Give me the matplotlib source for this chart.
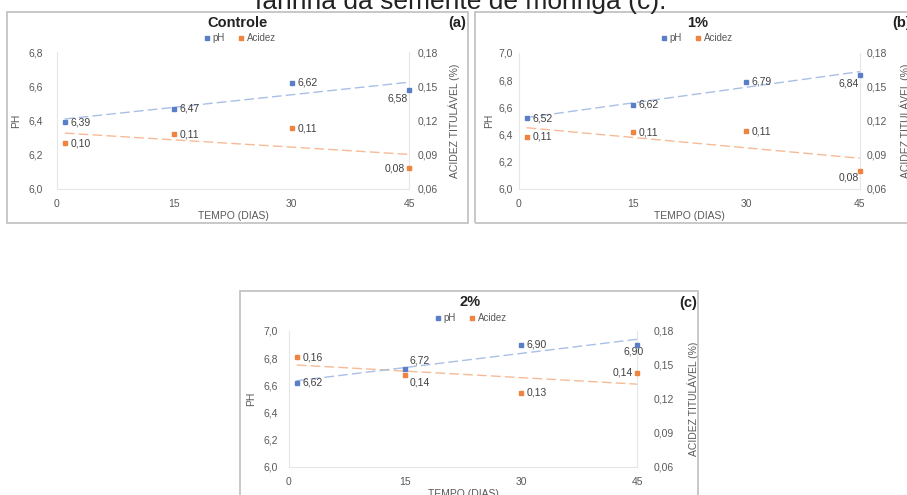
import matplotlib
matplotlib.use('Agg')
import matplotlib.pyplot as plt
import numpy as np
from matplotlib.patches import Rectangle

plt.rcParams['font.family'] = ['Liberation Sans', 'DejaVu Sans']

# ---------------- data ----------------
days = [1, 15, 30, 45]
x_ticks = [0, 15, 30, 45]
panel_titles = ['Controle', '1%', '2%']
panel_tags = ['(a)', '(b)', '(c)']
ph_control = [6.39, 6.47, 6.62, 6.58]
ph_1pct = [6.52, 6.62, 6.79, 6.84]
ph_2pct = [6.62, 6.72, 6.90, 6.90]
acid_control = [0.100, 0.108, 0.113, 0.078]
acid_1pct = [0.106, 0.110, 0.111, 0.076]
acid_2pct = [0.157, 0.141, 0.1256, 0.143]
ph_ticks_control = [6.0, 6.2, 6.4, 6.6, 6.8]
ph_ticks_pct = [6.0, 6.2, 6.4, 6.6, 6.8, 7.0]
acid_ticks = [0.06, 0.09, 0.12, 0.15, 0.18]
series_names = ['pH', 'Acidez']
x_label = 'TEMPO (DIAS)'
y_label = 'PH'
y2_label = 'ACIDEZ TITULÁVEL (%)'
caption = 'farinha da semente de moringa (c).'

# ---------------- layout / style ----------------
W, H = 907, 495
fig = plt.figure(figsize=(W / 100, H / 100), dpi=100)


def fx(x):
    return x / W


def fy(y):
    return 1 - y / H


BLUE = '#5a7fc8'
ORANGE = '#ef8440'
BLUE_T = '#aabfe6'
ORANGE_T = '#f6bb96'
TXT = '#595959'
LBL = '#404040'

frames = [(7, 12, 468, 223), (475, 12, 920, 223), (240, 291, 698, 510)]
axes_px = [(57, 52, 409, 189), (519, 53, 860, 189), (289, 331, 637, 467)]
title_pos = [(237, 23), (698, 23), (470, 302)]
tag_pos = [(457, 23), (902, 23), (688, 303)]
legend_pos = [(240, 38), (697, 38), (471, 318)]
left_pad = [10, 4.5, 8]
right_pad = [6.5, 5, 12]
y_label_right_px = [21.5, 494, 256]
y2_label_x = [1.111, 1.117, 1.144]

ph_data = [ph_control, ph_1pct, ph_2pct]
acid_data = [acid_control, acid_1pct, acid_2pct]
ph_ticks = [ph_ticks_control, ph_ticks_pct, ph_ticks_pct]

# label placement (offset in points, horizontal alignment) per panel / point
default_off = ((4, 0), 'left')
ph_lab = [
    [default_off, default_off, default_off, ((-1, -6.5), 'right')],
    [default_off, default_off, default_off, ((-1, -6.5), 'right')],
    [default_off, ((3, 6), 'left'), default_off, ((5, -5), 'right')],
]
acid_lab = [
    [default_off, default_off, default_off, ((-3, 0), 'right')],
    [default_off, default_off, default_off, ((-1, -4.5), 'right')],
    [default_off, ((3, -5), 'left'), default_off, ((-3, 0), 'right')],
]


def comma(v, nd):
    return f'{v:.{nd}f}'.replace('.', ',')


for (x0, y0, x1, y1) in frames:
    fig.patches.append(Rectangle((fx(x0), fy(y1)), fx(x1) - fx(x0), fy(y0) - fy(y1),
                                 transform=fig.transFigure, fill=False,
                                 edgecolor='#c4c4c4', lw=1.3))

fig.text(fx(461), fy(9), caption, ha='center', va='baseline', fontsize=19,
         color='#222222')

for i in range(3):
    l, t, r, b = axes_px[i]
    ax = fig.add_axes([fx(l), fy(b), fx(r) - fx(l), fy(t) - fy(b)])
    ax2 = ax.twinx()
    ax.set_zorder(ax2.get_zorder() + 1)
    ax.patch.set_visible(False)

    x = np.array(days, dtype=float)
    ph = np.array(ph_data[i])
    ac = np.array(acid_data[i])

    # trendlines (linear fits of the data)
    p1 = np.polyfit(x, ph, 1)
    p2 = np.polyfit(x, ac, 1)
    xx = np.array([x.min(), x.max()])
    ax.plot(xx, np.polyval(p1, xx), color=BLUE_T, lw=1.0, dashes=(7, 3))
    ax2.plot(xx, np.polyval(p2, xx), color=ORANGE_T, lw=1.0, dashes=(7, 3))

    h1, = ax.plot(x, ph, 's', color=BLUE, ms=2.2, label=series_names[0],
                  clip_on=False, zorder=4)
    h2, = ax2.plot(x, ac, 's', color=ORANGE, ms=2.2, label=series_names[1],
                   clip_on=False, zorder=4)

    for j in range(len(days)):
        (dx, dy), ha = ph_lab[i][j]
        ax.annotate(comma(ph[j], 2), (x[j], ph[j]), xytext=(dx, dy),
                    textcoords='offset points', ha=ha, va='center',
                    fontsize=7.5, color=LBL)
        (dx, dy), ha = acid_lab[i][j]
        ax2.annotate(comma(ac[j], 2), (x[j], ac[j]), xytext=(dx, dy),
                     textcoords='offset points', ha=ha, va='center',
                     fontsize=7.5, color=LBL)

    ax.set_xlim(0, 45)
    ax.set_xticks(x_ticks)
    ax.set_ylim(ph_ticks[i][0], ph_ticks[i][-1])
    ax.set_yticks(ph_ticks[i])
    ax.set_yticklabels([comma(v, 1) for v in ph_ticks[i]])
    ax2.set_ylim(acid_ticks[0], acid_ticks[-1])
    ax2.set_yticks(acid_ticks)
    ax2.set_yticklabels([comma(v, 2) for v in acid_ticks])

    ax.tick_params(axis='x', length=0, pad=7, labelsize=7.5, labelcolor=TXT)
    ax.tick_params(axis='y', length=0, pad=left_pad[i], labelsize=7.5, labelcolor=TXT)
    ax2.tick_params(axis='y', length=0, pad=right_pad[i], labelsize=7.5, labelcolor=TXT)

    for a in (ax, ax2):
        a.spines['top'].set_visible(False)
        for s in ('left', 'right', 'bottom'):
            a.spines[s].set_color('#e6e6e6')
            a.spines[s].set_linewidth(0.8)
    ax.spines['right'].set_visible(False)
    ax2.spines['left'].set_visible(False)
    ax2.spines['bottom'].set_visible(False)

    ax.set_xlabel(x_label, fontsize=7.5, color=TXT)
    ax.xaxis.set_label_coords(0.5, -0.16)
    ax.set_ylabel(y_label, fontsize=7.5, color=TXT)
    ax.yaxis.set_label_coords((y_label_right_px[i] - l) / (r - l), 0.5)
    ax2.set_ylabel(y2_label, fontsize=7.5, color=TXT)
    ax2.yaxis.set_label_coords(y2_label_x[i], 0.5)

    fig.text(fx(title_pos[i][0]), fy(title_pos[i][1]), panel_titles[i],
             ha='center', va='center', fontsize=10.5, fontweight='bold', color='#222222')
    fig.text(fx(tag_pos[i][0]), fy(tag_pos[i][1]), panel_tags[i],
             ha='center', va='center', fontsize=10.5, fontweight='bold', color='#222222')
    fig.legend(handles=[h1, h2], loc='center',
               bbox_to_anchor=(fx(legend_pos[i][0]), fy(legend_pos[i][1])),
               ncol=2, frameon=False, fontsize=7, handlelength=0.6,
               handletextpad=0.3, columnspacing=1.4, labelcolor=TXT,
               borderpad=0, borderaxespad=0)

fig.savefig('out.png', dpi=100)
